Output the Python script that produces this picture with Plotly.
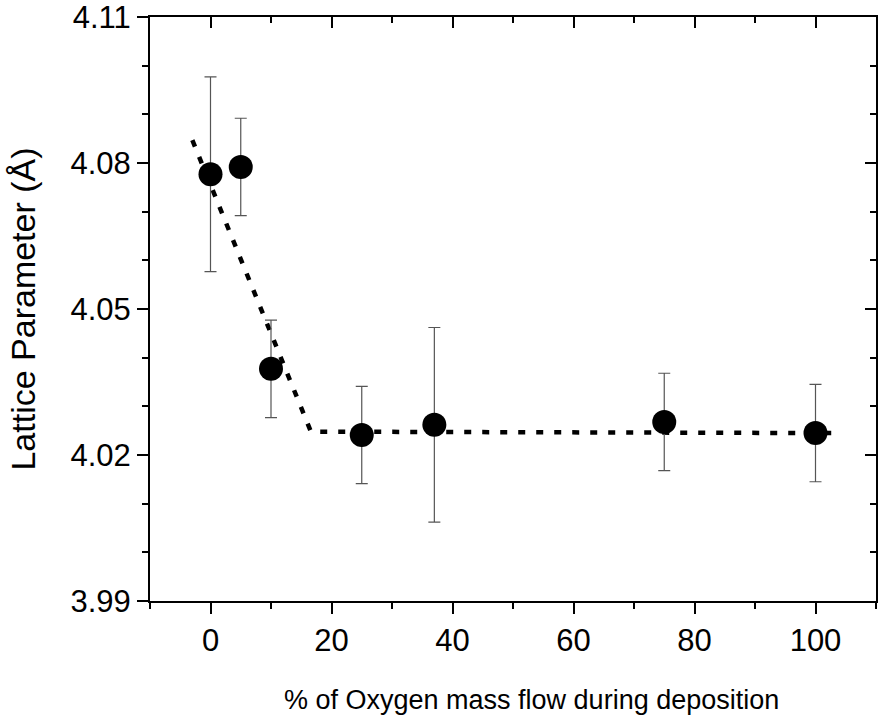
import plotly.graph_objects as go

# Data
oxygen_pct = [0, 5, 10, 25, 37, 75, 100]
lattice = [4.0777, 4.0792, 4.0377, 4.0241, 4.0262, 4.0268, 4.0245]
lattice_err = [0.020, 0.010, 0.010, 0.010, 0.020, 0.010, 0.010]

fit_x = [-3, 16.6, 103.7]
fit_y = [4.0847, 4.0248, 4.0245]

x_range = [-10, 110]
y_range = [3.99, 4.11]
y_ticks = [3.99, 4.02, 4.05, 4.08, 4.11]
y_ticklabels = ["3.99", "4.02", "4.05", "4.08", "4.11"]
x_ticks = [0, 20, 40, 60, 80, 100]
y_minor = [3.99 + 0.01 * i for i in range(13)]

x_title = "% of Oxygen mass flow during deposition"
y_title = "Lattice Parameter (Å)"

FONT = "Liberation Sans, Arial, sans-serif"
TICK_SIZE = 31

fig = go.Figure()

fig.add_trace(go.Scatter(
    x=fit_x, y=fit_y, mode="lines",
    line=dict(color="black", width=4.5, dash="7px,11px"),
    hoverinfo="skip", showlegend=False,
))

fig.add_trace(go.Scatter(
    x=oxygen_pct, y=lattice, mode="markers",
    marker=dict(color="black", size=24, line=dict(width=0)),
    error_y=dict(type="data", array=lattice_err, visible=True,
                 color="#555555", thickness=1.2, width=6),
    showlegend=False,
))

# dummy trace to activate the mirror axes (top / right with inward ticks)
fig.add_trace(go.Scatter(
    x=[x_range[0]], y=[y_range[0]], xaxis="x2", yaxis="y2",
    mode="markers", marker=dict(opacity=0), hoverinfo="skip", showlegend=False,
))

common = dict(showgrid=False, zeroline=False, linecolor="black", linewidth=2,
              tickcolor="black", tickwidth=2, ticklen=11, automargin=False,
              ticklabeloverflow="allow")

fig.update_layout(
    width=878, height=719,
    margin=dict(l=150, r=2, t=17, b=118),
    paper_bgcolor="white", plot_bgcolor="white",
    font=dict(family=FONT, color="black"),
    xaxis=dict(range=x_range, tickvals=x_ticks, ticks="outside",
               showline=True,
               tickfont=dict(size=TICK_SIZE, family=FONT),
               minor=dict(dtick=10, ticklen=6, tickwidth=2, tickcolor="black", ticks="outside"),
               **common),
    yaxis=dict(range=y_range, tickvals=y_ticks, ticktext=y_ticklabels, ticks="outside",
               showline=True,
               tickfont=dict(size=TICK_SIZE, family=FONT),
               title=dict(text=y_title, font=dict(size=34, family=FONT), standoff=25),
               minor=dict(tickvals=y_minor, ticklen=6,
                          tickwidth=2, tickcolor="black", ticks="outside"),
               **common),
    xaxis2=dict(range=x_range, overlaying="x", side="top", tickvals=x_ticks,
                ticks="inside", showticklabels=False, showline=True,
                minor=dict(dtick=10, ticklen=6, tickwidth=2, tickcolor="black", ticks="inside"),
                **common),
    yaxis2=dict(range=y_range, overlaying="y", side="right", tickvals=y_ticks,
                ticks="inside", showticklabels=False, showline=True,
                minor=dict(tickvals=y_minor, ticklen=6,
                           tickwidth=2, tickcolor="black", ticks="inside"),
                **common),
    annotations=[dict(text=x_title, xref="paper", yref="paper",
                      x=0.526, y=-0.1695, xanchor="center", yanchor="middle",
                      showarrow=False, font=dict(size=27, family=FONT, color="black"))],
)

fig.write_html(
    "out.html",
    config={"displayModeBar": False},
    post_script="document.body.style.margin='0';document.body.style.overflow='hidden';",
)
